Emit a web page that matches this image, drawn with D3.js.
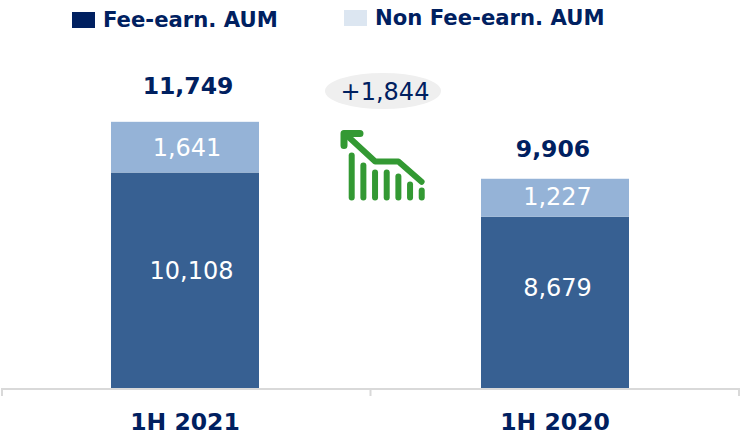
<!DOCTYPE html>
<html>
<head>
<meta charset="utf-8">
<script src="https://cdn.jsdelivr.net/npm/d3@7"></script>
<style>
  html, body { margin: 0; padding: 0; background: #fff; }
  svg { display: block; }
  text { font-family: "DejaVu Sans", Verdana, sans-serif; }
</style>
</head>
<body>
<svg id="chart" width="741" height="433"></svg>
<script>
const categories = ["1H 2021", "1H 2020"];
const feeEarning = [10108, 8679];
const nonFeeEarning = [1641, 1227];
const totals = [11749, 9906];
const seriesNames = ["Fee-earn. AUM", "Non Fee-earn. AUM"];
const deltaLabel = "+1,844";
// icon shape
const iconBars = [42, 32, 25, 25, 21, 13, 7];
const iconArrow = [[1, 5], [39, 45], [68, 45], [97, 74]];
const iconHead = [[0, 22], [0, 5], [20, 5]];

const navy = "#002060";
const axisY = 388;

let svg = d3.select("#chart");

let x = d3.scaleBand().domain(categories).range([0, 740]).paddingInner(0.6).paddingOuter(0.3);
// the source chart has a cut value axis, it does not start at zero
let yMin = 3135;
let y = d3.scaleLinear().domain([yMin, 15691]).range([axisY, 0]);
let fmt = d3.format(",");

let stack = categories.map((c, i) => ({ cat: c, fee: feeEarning[i], non: nonFeeEarning[i], total: totals[i], i: i }));
let mid = d => x(d.cat) + x.bandwidth() / 2;

// stacked bars
svg.selectAll(".fee").data(stack).enter().append("rect")
    .attr("class", "fee")
    .attr("x", d => x(d.cat))
    .attr("width", x.bandwidth())
    .attr("y", d => y(d.fee))
    .attr("height", d => y(yMin) - y(d.fee))
    .attr("fill", "#376092");

svg.selectAll(".non").data(stack).enter().append("rect")
    .attr("class", "non")
    .attr("x", d => x(d.cat))
    .attr("width", x.bandwidth())
    .attr("y", d => y(d.fee + d.non))
    .attr("height", d => y(d.fee) - y(d.fee + d.non))
    .attr("fill", "#95b3d7");

// value labels, the source has them placed by hand so each gets a nudge
let feeNudge = [[6.5, -10], [2.5, -15]];
let nonNudge = [[2, 0], [2.5, -1.5]];
let totalNudge = [[3, -28], [-2, -22]];

svg.selectAll(".feeLabel").data(stack).enter().append("text")
    .attr("x", d => mid(d) + feeNudge[d.i][0])
    .attr("y", d => (y(d.fee) + axisY) / 2 + 9 + feeNudge[d.i][1])
    .attr("text-anchor", "middle")
    .attr("font-size", 24)
    .attr("fill", "#fff")
    .text(d => fmt(d.fee));

svg.selectAll(".nonLabel").data(stack).enter().append("text")
    .attr("x", d => mid(d) + nonNudge[d.i][0])
    .attr("y", d => (y(d.fee) + y(d.fee + d.non)) / 2 + 9 + nonNudge[d.i][1])
    .attr("text-anchor", "middle")
    .attr("font-size", 24)
    .attr("fill", "#fff")
    .text(d => fmt(d.non));

svg.selectAll(".totalLabel").data(stack).enter().append("text")
    .attr("x", d => mid(d) + totalNudge[d.i][0])
    .attr("y", d => y(d.total) + totalNudge[d.i][1])
    .attr("text-anchor", "middle")
    .attr("font-size", 23.5)
    .attr("font-weight", "bold")
    .attr("fill", navy)
    .text(d => fmt(d.total));

// axis line with group separators
let edges = [2, 370.5, 739];
svg.append("line")
    .attr("x1", 2).attr("x2", 739).attr("y1", axisY + 1).attr("y2", axisY + 1)
    .attr("stroke", "#d9d9d9").attr("stroke-width", 2);
svg.selectAll(".sep").data(edges).enter().append("line")
    .attr("class", "sep")
    .attr("x1", d => d).attr("x2", d => d)
    .attr("y1", axisY).attr("y2", axisY + 8)
    .attr("stroke", "#d9d9d9").attr("stroke-width", 2);

svg.selectAll(".catLabel").data(categories).enter().append("text")
    .attr("class", "catLabel")
    .attr("x", d => x(d) + x.bandwidth() / 2)
    .attr("y", 430)
    .attr("text-anchor", "middle")
    .attr("font-size", 23.5)
    .attr("font-weight", "bold")
    .attr("fill", navy)
    .text(d => d);

// legend
let legendX = [72, 344], legendTextX = [103, 375], legendY = [12, 10], legendBase = [27, 25];
let legendFill = [navy, "#dce6f1"];
seriesNames.forEach((name, i) => {
    svg.append("rect")
        .attr("x", legendX[i]).attr("y", legendY[i])
        .attr("width", 23).attr("height", 16)
        .attr("fill", legendFill[i]);
    svg.append("text")
        .attr("x", legendTextX[i]).attr("y", legendBase[i])
        .attr("font-size", 21.2)
        .attr("font-weight", "bold")
        .attr("fill", navy)
        .text(name);
});

// delta bubble
svg.append("ellipse")
    .attr("cx", 383).attr("cy", 91).attr("rx", 58).attr("ry", 18)
    .attr("fill", "#efefef");
svg.append("text")
    .attr("x", 385).attr("y", 100)
    .attr("text-anchor", "middle")
    .attr("font-size", 24)
    .attr("fill", navy)
    .text(deltaLabel);

// green arrow icon
let ix = d3.scaleLinear().domain([0, 100]).range([344, 424]);
let iy = d3.scaleLinear().domain([0, 100]).range([130, 200]);
let toPath = d3.line().x(d => ix(d[0])).y(d => iy(d[1]));
let icon = svg.append("g")
    .attr("stroke", "#339933")
    .attr("fill", "none")
    .attr("stroke-linecap", "round")
    .attr("stroke-linejoin", "round");

icon.selectAll(".iconBar").data(iconBars).enter().append("line")
    .attr("class", "iconBar")
    .attr("x1", (d, i) => 351.7 + i * 11.67)
    .attr("x2", (d, i) => 351.7 + i * 11.67)
    .attr("y1", 197.5)
    .attr("y2", d => 197.5 - d)
    .attr("stroke-width", 6);

icon.append("path")
    .attr("d", toPath(iconArrow))
    .attr("stroke-width", 6);
icon.append("path")
    .attr("d", toPath(iconHead))
    .attr("stroke-width", 7);
</script>
</body>
</html>
